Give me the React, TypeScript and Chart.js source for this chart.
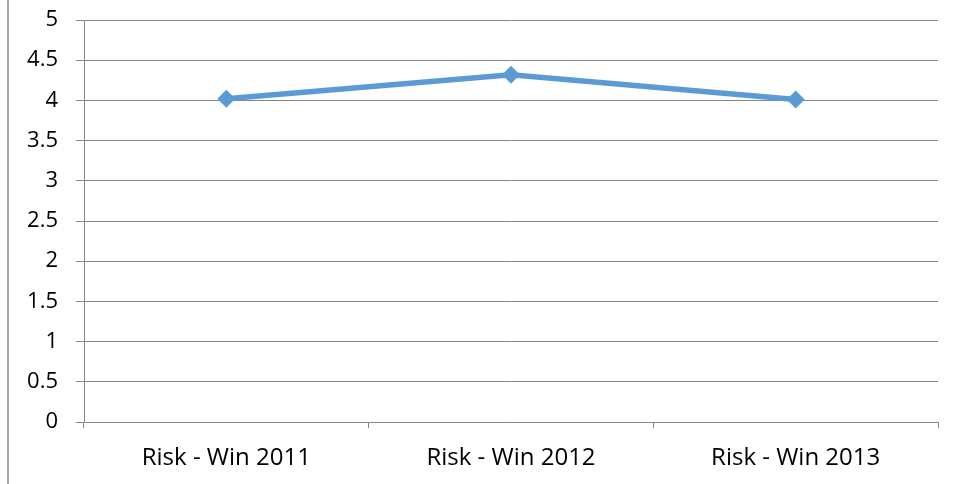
import React, { useEffect, useRef } from "react";
import { Chart, registerables } from "chart.js";

Chart.register(...registerables);

const categories = ["Risk - Win 2011", "Risk - Win 2012", "Risk - Win 2013"];
const values = [4.02, 4.32, 4.01];
const yMin = 0;
const yMax = 5;
const yStep = 0.5;

const borderPlugin = {
  id: "leftBorder",
  beforeDraw(chart: any) {
    const ctx = chart.ctx;
    ctx.save();
    ctx.strokeStyle = "#a6a6a6";
    ctx.lineWidth = 2;
    ctx.beginPath();
    ctx.moveTo(8, 0);
    ctx.lineTo(8, chart.height);
    ctx.stroke();
    ctx.restore();
  },
};

export default function App() {
  const ref = useRef<HTMLCanvasElement | null>(null);
  useEffect(() => {
    if (!ref.current) return;
    const family = "'Open Sans', 'Liberation Sans', sans-serif";
    const chart = new Chart(ref.current, {
      type: "line",
      data: {
        labels: categories,
        datasets: [
          {
            data: values,
            borderColor: "#5b9bd5",
            backgroundColor: "#5b9bd5",
            borderWidth: 5.5,
            pointStyle: "rectRot",
            pointRadius: 9,
            pointBorderWidth: 0,
            tension: 0,
          },
        ],
      },
      options: {
        animation: false,
        responsive: false,
        maintainAspectRatio: false,
        layout: { padding: { top: 0, right: 16, left: 0, bottom: 0 } },
        plugins: { legend: { display: false }, tooltip: { enabled: false } },
        scales: {
          x: {
            offset: true,
            grid: {
              offset: true,
              drawOnChartArea: false,
              drawTicks: true,
              tickLength: 6,
              color: "#868686",
            },
            border: { color: "#868686", width: 1 },
            ticks: { color: "#000", font: { family, size: 24 }, padding: 16, maxRotation: 0 },
            afterFit: (s: any) => {
              s.height = 62;
            },
          },
          y: {
            min: yMin,
            max: yMax,
            afterFit: (s: any) => {
              s.width = 84;
              s.paddingTop = 20;
            },
            grid: { color: "#868686", tickLength: 8 },
            border: { color: "#868686", width: 1 },
            ticks: {
              stepSize: yStep,
              color: "#000",
              font: { family, size: 22 },
              padding: 18,
              callback: (v: any) => String(Number(v)),
            },
          },
        },
      },
      plugins: [borderPlugin],
    });
    return () => chart.destroy();
  }, []);
  return (
    <div style={{ position: "absolute", left: 0, top: 0, width: 954, height: 484, background: "#fff" }}>
      <canvas ref={ref} width={954} height={484} style={{ display: "block" }} />
    </div>
  );
}
